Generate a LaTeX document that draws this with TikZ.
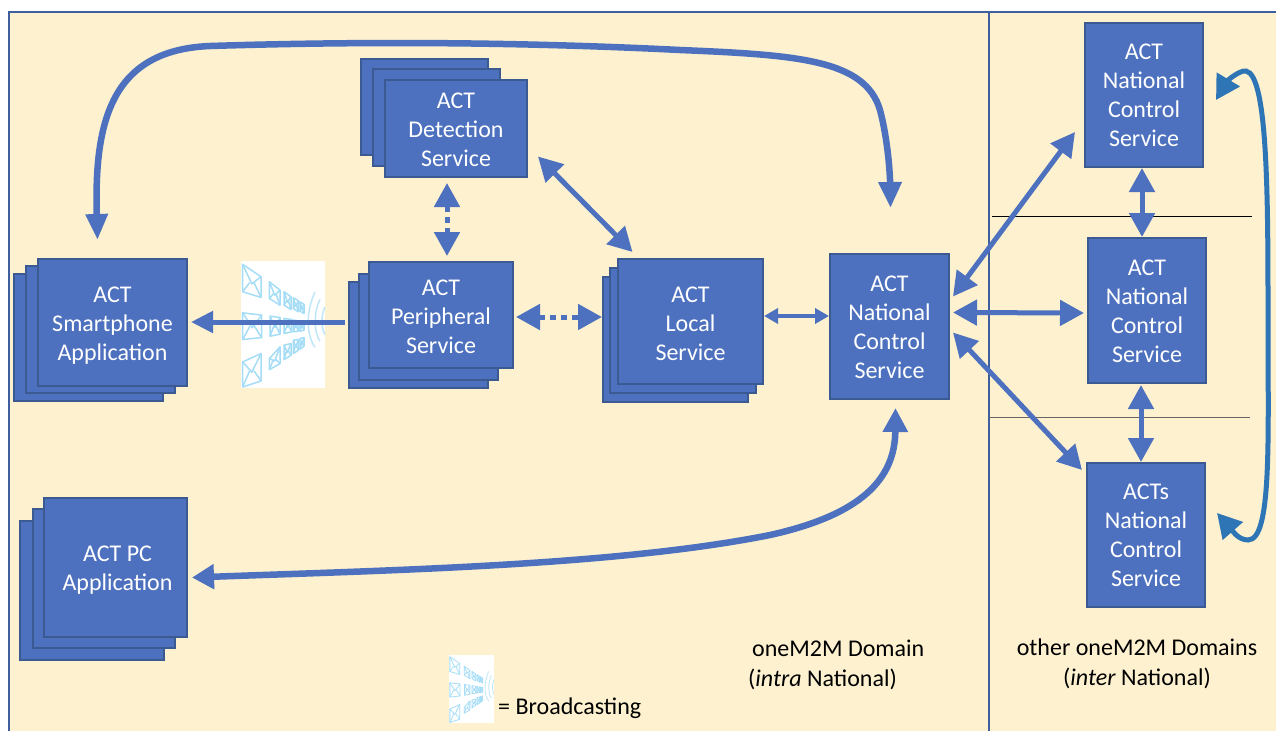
\documentclass[tikz,border=0pt]{standalone}
\usepackage{fontspec}
\setmainfont{Carlito}
\usetikzlibrary{arrows.meta,calc}
\definecolor{panel}{HTML}{FDF1CF}
\definecolor{boxfill}{HTML}{4D71BE}
\definecolor{boxedge}{HTML}{3B5A92}
\definecolor{frameblue}{HTML}{3F5E9E}
\definecolor{loopblue}{HTML}{2E75B6}
\definecolor{envblue}{HTML}{A5DDF7}
\tikzset{
  x=1pt,y=-1pt,
  svc/.style={draw=boxedge,line width=1.3pt,fill=boxfill,text=white,inner sep=0pt,outer sep=0pt,align=center,
     font=\fontsize{24}{29}\selectfont},
  one arrow/.style={draw=boxfill,line width=5pt,-{Triangle[length=22pt,width=21pt]}},
  both arrow/.style={draw=boxfill,line width=5pt,{Triangle[length=24pt,width=25pt]}-{Triangle[length=24pt,width=25pt]}},
  dot arrow/.style={both arrow,dash pattern=on 6pt off 5pt},
  small arrow/.style={draw=boxfill,line width=3.5pt,{Triangle[length=14pt,width=15pt]}-{Triangle[length=14pt,width=15pt]}},
  divider/.style={draw=black,line width=.8pt},
  label/.style={font=\fontsize{24}{30}\selectfont,align=center,text=black,inner sep=0pt},
}
% service box given by its corners
\newcommand{\svcbox}[6]{\node[svc,minimum width=#4-#2,minimum height=#5-#3] (#1) at ({(#2+#4)/2},{(#3+#5)/2}) {#6};}
% pushes the text of a box down by half of the extra height
\newcommand{\dn}[1]{\rule{0pt}{\dimexpr 15.5pt+#1pt\relax}}
% broadcasting picture, drawn in the units of a 252 x 380 field
\newcommand{\onemail}[6]{%
  \draw (#1,#2) -- (#4,#5) -- (#4,#6) -- (#1,#3) -- cycle;
  \draw (#1,#2) -- ({(#1+#4)/2},{(#2+#3+#5+#6)/4+4}) -- (#4,#5);
  \draw (#1,#3) -- ({#1+(#4-#1)*0.38},{(#2+#3+#5+#6)/4});
  \draw (#4,#6) -- ({#1+(#4-#1)*0.62},{(#2+#3+#5+#6)/4});
}
\newcommand{\bcasticon}[5]{%
  \node[fill=white,inner sep=0pt,outer sep=0pt,minimum width=#3,minimum height=#4] (#5) at ({#1+#3/2},{#2+#4/2}) {};
  \begin{scope}[shift={(#1,#2)},x={(#3/252*1pt,0)},y={(0,-#4/380*1pt)},draw=envblue,line width=#3/84*1.5pt,line join=round]
    \onemail{5}{10}{92}{60}{47}{109}
    \onemail{85}{62}{112}{117}{87}{132}
    \onemail{129}{92}{132}{150}{107}{145}
    \onemail{157}{110}{142}{172}{119}{152}
    \onemail{177}{122}{150}{189}{130}{157}
    \onemail{5}{155}{235}{62}{162}{229}
    \onemail{87}{165}{225}{117}{169}{219}
    \onemail{129}{172}{217}{152}{175}{212}
    \onemail{157}{177}{212}{172}{179}{210}
    \onemail{177}{179}{210}{189}{182}{207}
    \onemail{5}{302}{377}{60}{277}{359}
    \onemail{85}{292}{325}{117}{257}{307}
    \onemail{129}{252}{295}{150}{247}{282}
    \onemail{157}{237}{277}{172}{235}{267}
    \onemail{177}{232}{264}{189}{229}{255}
    \draw[draw=envblue!70] (222,92) .. controls (195,150) and (195,220) .. (222,258);
    \draw[draw=envblue!70] (237,115) .. controls (218,150) and (218,215) .. (237,240);
    \draw[draw=envblue!70] (252,138) .. controls (240,160) and (240,200) .. (252,220);
  \end{scope}
}
\begin{document}
\begin{tikzpicture}
\useasboundingbox (0,0) rectangle (1276,731);
\fill[white] (0,0) rectangle (1276,731);
\fill[panel] (9,12) rectangle (1276,731);
\draw[frameblue,line width=1.3pt] (9,731) -- (9,12) -- (1276,12);
\draw[frameblue,line width=1.3pt] (989,12) -- (989,731);
\draw[divider] (992,216) -- (1252,216);
\draw[divider,draw=black!60] (989,417) -- (1250,417);

% stacks
\svcbox{detA}{361}{59}{488}{155}{}
\svcbox{detB}{373}{69}{500}{166}{}
\svcbox{det}{385}{80}{527}{177}{\dn{3}ACT\\Detection\\Service}
\svcbox{perA}{349}{282}{488}{388}{}
\svcbox{perB}{359}{274}{498}{380}{}
\svcbox{per}{369}{262}{513}{368}{\dn{3}ACT\\Peripheral\\Service}
\svcbox{locA}{603}{277}{748}{402}{}
\svcbox{locB}{610}{268}{756}{393}{}
\svcbox{loc}{618}{259}{763}{384}{\dn{5}ACT\\Local\\Service}
\svcbox{smaA}{14}{274}{163}{401}{}
\svcbox{smaB}{26}{266}{175}{393}{}
\svcbox{sma}{38}{259}{187}{386}{\dn{6}ACT\\Smartphone\\Application}
\svcbox{pcA}{20}{521}{164}{660}{}
\svcbox{pcB}{33}{509}{175}{648}{}
\svcbox{pc}{44}{498}{187}{637}{\dn{6}\hspace*{4pt}ACT PC\\\hspace*{4pt}Application}
\svcbox{nat}{830}{254}{949}{399}{\dn{2}ACT\\National\\Control\\Service}
\svcbox{natA}{1085}{23}{1203}{167}{\dn{1}ACT\\National\\Control\\Service}
\svcbox{natB}{1088}{238}{1206}{383}{\dn{1}ACT\\National\\Control\\Service}
\svcbox{natC}{1087}{463}{1205}{607}{\dn{1}ACTs\\National\\Control\\Service}

% broadcasting icons
\bcasticon{241}{261}{84}{127}{icon}
\bcasticon{449}{655}{45}{68}{iconkey}

% connectors
\draw[one arrow,shorten >=4pt] ($(per.west)+(-24,7)$) -- ($(sma.east)+(0,-0.5)$);
\draw[dot arrow] ($(det.south)+(-9,6)$) -- ($(per.north)+(6,-6)$);
\draw[dot arrow] ($(per.east)+(3,2)$) -- ($(locA.west)+(-1,-22.5)$);
\draw[both arrow] ($(det.east)+(11,28)$) -- ($(loc.north)+(-58,-7)$);
\draw[small arrow] ($(loc.east)+(1,-5.5)$) -- ($(nat.west)+(-1,-10.5)$);
\draw[both arrow] ($(nat.east)+(4,-30)$) -- ($(natA.west)+(-10,37)$);
\draw[both arrow] ($(nat.east)+(4,-14)$) -- ($(natB.west)+(-4,2.5)$);
\draw[both arrow] ($(nat.east)+(4,6)$) -- ($(natC.north west)+(-5,7)$);
\draw[both arrow] ($(natA.south)+(-2,1)$) -- ($(natB.north)+(-5,-1)$);
\draw[both arrow] ($(natB.south)+(-6,2)$) -- ($(natC.north)+(-5,-1)$);

% long curved connectors
\draw[one arrow,line width=6.5pt,{Triangle[length=26pt,width=21pt]}-{Triangle[length=26pt,width=22pt]}]
  ($(sma.north)+(-15,-19)$) .. controls (94,120) and (112,50) .. (210,46)
  .. controls (400,40) and (560,44) .. (680,50)
  .. controls (800,55) and (865,60) .. (880,110)
  .. controls (888,140) and (890,175) .. ($(nat.north)+(1,-46)$);
\draw[one arrow,line width=6.5pt,{Triangle[length=22pt,width=24pt]}-{Triangle[length=24pt,width=24pt]}]
  ($(pc.east)+(5,10)$) .. controls (400,570) and (620,565) .. (770,535)
  .. controls (860,515) and (895,480) .. ($(nat.south)+(6,9)$);
\draw[draw=loopblue,line width=5pt,{Triangle[length=24pt,width=26pt]}-{Triangle[length=24pt,width=26pt]}]
  ($(natA.east)+(13,5)$) .. controls (1228,80) and (1240,70) .. (1246,71)
  .. controls (1268,75) and (1268,200) .. (1268,320)
  .. controls (1268,440) and (1272,540) .. (1248,540)
  .. controls (1238,540) and (1232,530) .. ($(natC.east)+(12,-22)$);

% labels
\node[label,align=left,anchor=west] (intra) at (748,665) {\hspace*{4pt}oneM2M Domain\\(\textit{intra} National)};
\node[label] (inter) at (1137,664) {other oneM2M Domains\\(\textit{inter} National)};
\node[label,anchor=west] (key) at (498,708) {= Broadcasting};
\end{tikzpicture}
\end{document}
